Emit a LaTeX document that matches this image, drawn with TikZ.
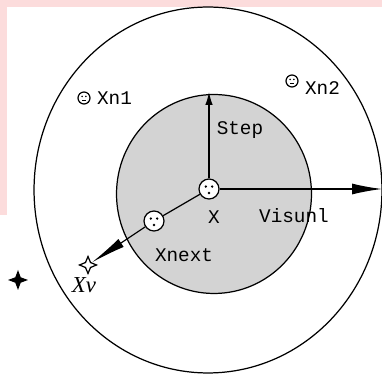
\documentclass[tikz,border=0pt]{standalone}
\usepackage{fontspec}
\setmainfont{Liberation Serif}
\setmonofont{Liberation Mono}
\usetikzlibrary{arrows.meta,positioning,shapes.geometric}
\definecolor{DiskGray}{HTML}{D3D3D3}
\definecolor{Blush}{HTML}{FCDCDC}

\begin{document}
\begin{tikzpicture}[
    x=0.02cm, y=-0.02cm,
    line width=0.7pt,
    font=\fontsize{11}{12}\selectfont\ttfamily,
    face/.style={circle, draw, fill=white, inner sep=0pt, minimum size=0.4cm,
        path picture={
            \fill[black] ([xshift=-1.8pt,yshift=1.4pt]path picture bounding box.center) circle (0.75pt);
            \fill[black] ([xshift=1.8pt,yshift=1.4pt]path picture bounding box.center) circle (0.75pt);
            \fill[black] ([yshift=-2.3pt]path picture bounding box.center) circle (0.8pt);}},
    smallface/.style={circle, draw, fill=white, inner sep=0pt, minimum size=0.24cm,
        path picture={
            \fill[black] ([xshift=-1.1pt,yshift=0.9pt]path picture bounding box.center) circle (0.5pt);
            \fill[black] ([xshift=1.1pt,yshift=0.9pt]path picture bounding box.center) circle (0.5pt);
            \draw[black, line width=0.4pt] ([xshift=-1.1pt,yshift=-1.3pt]path picture bounding box.center) -- ([xshift=1.1pt,yshift=-1.3pt]path picture bounding box.center);}},
    arrow/.style={-{Latex[length=2.6mm,width=1.5mm]}},
    longarrow/.style={-{Latex[length=6mm,width=2.2mm]}},
    wedge/.style={-{Latex[length=7mm,width=1.9mm]}}
]
\useasboundingbox (0,0) rectangle (382,374);
% pink strips along the edges
\fill[Blush] (0,0) rectangle (382,7);
\fill[Blush] (0,0) rectangle (7,215);

% search field and visual field
\draw (208,190) ellipse [x radius=3.48cm, y radius=3.66cm];
\draw[fill=DiskGray] (214,194) ellipse [x radius=1.95cm, y radius=1.99cm];

\node[face] (x) at (209,189) {};
\node[face] (xnext) at (154,221) {};
\node[star, star points=4, star point ratio=2.4, draw, fill=white, inner sep=0pt, minimum size=0.34cm] (xv) at (88,265) {};
\node[star, star points=4, star point ratio=2.6, fill=black, inner sep=0pt, minimum size=0.4cm] (far) at (18,280) {};
\node[smallface] (xn1) at (84,98) {};
\node[smallface] (xn2) at (292,81) {};

\coordinate (stepend) at (209,92);
\coordinate (visend) at (382,189);

\draw[arrow] (x) -- (stepend);
\draw[longarrow] (x) -- (visend);
\draw (x) -- (xnext);
\draw[wedge] (xnext) -- (xv);

% labels
\node[right=0pt of xn1] (xn1lbl) {Xn1};
\node[right=0pt of xn2, yshift=-4pt] (xn2lbl) {Xn2};
\node (steplbl) at (240,130) {Step};
\node (xlbl) at (214,217) {X};
\node (vislbl) at (294,216) {Visunl};
\node (xnextlbl) at (184,255) {Xnext};
\node[font=\fontsize{13}{14}\selectfont\rmfamily\itshape] (xvlbl) at (84,285) {Xv};
\end{tikzpicture}
\end{document}
